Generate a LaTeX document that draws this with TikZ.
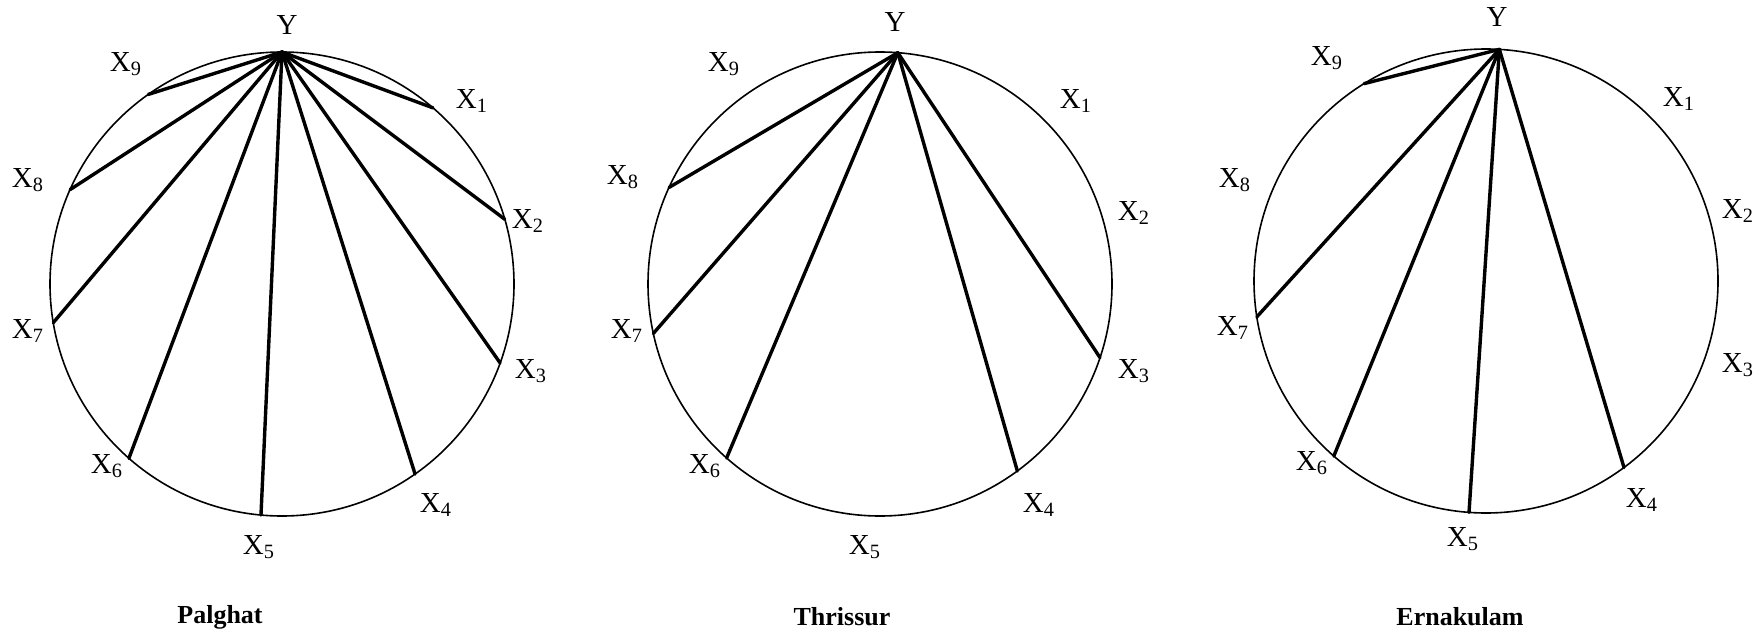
\documentclass[tikz,border=0pt]{standalone}
\usepackage{fontspec}
\setmainfont{Liberation Serif}
\usepackage{tikz}
\usetikzlibrary{calc}
\tikzset{
  every picture/.style={line cap=round, line join=round},
  rim/.style={black, line width=0.8pt},
  chord/.style={black, line width=1.7pt},
  vlbl/.style={font=\fontsize{14.5}{16}\selectfont, inner sep=0pt},
  district/.style={font=\fontsize{13}{15}\selectfont\bfseries, inner sep=0pt},
}

\begin{document}
\begin{tikzpicture}[x=0.5pt, y=0.5pt]
\useasboundingbox (0,0) rectangle (1761,639);
% Palghat
\coordinate (pc) at (282,355);
\draw[rim] (pc) circle (232);
\coordinate (py) at ($(pc)+(90:232)$);
\foreach \n/\a in {1/49.4, 2/16.2, 3/-19.9, 4/-55, 5/-95.2, 6/228.7, 7/189.6, 8/156, 9/125.2} {
  \coordinate (p\n) at ($(pc)+(\a:232)$);
  \draw[chord] (py) -- (p\n);
}
\node[vlbl] (pyl) at (287,614) {Y};
\foreach \n/\x/\y in {1/472/538, 2/528/418, 3/531/268, 4/436/134, 5/259/92,
                      6/107/173, 7/28/308, 8/28/459, 9/126/575}
  \node[vlbl] (pl\n) at (\x,\y) {X\textsubscript{\n}};
\node[district] (pname) at (220,22) {Palghat};
% Thrissur
\coordinate (tc) at (880,355);
\draw[rim] (tc) circle (232);
\coordinate (ty) at ($(tc)+(85.6:232)$);
\foreach \n/\a in {3/-18.5, 4/-53.7, 6/228.6, 7/192.3, 8/155.4} {
  \coordinate (t\n) at ($(tc)+(\a:232)$);
  \draw[chord] (ty) -- (t\n);
}
\node[vlbl] (tyl) at (895,617) {Y};
\foreach \n/\x/\y in {1/1076/538, 2/1134/426, 3/1134/268, 4/1039/134, 5/865/92,
                      6/705/173, 7/627/308, 8/623/462, 9/724/575}
  \node[vlbl] (tl\n) at (\x,\y) {X\textsubscript{\n}};
\node[district] (tname) at (842,22) {Thrissur};
% Ernakulam
\coordinate (ec) at (1486,358);
\draw[rim] (ec) circle (232);
\coordinate (ey) at ($(ec)+(86.7:232)$);
\foreach \n/\a in {4/-53.5, 5/-94.2, 6/229, 7/188.9, 9/121.7} {
  \coordinate (e\n) at ($(ec)+(\a:232)$);
  \draw[chord] (ey) -- (e\n);
}
\node[vlbl] (eyl) at (1497,622) {Y};
\foreach \n/\x/\y in {1/1679/540, 2/1738/428, 3/1738/274, 4/1642/139, 5/1463/100,
                      6/1312/176, 7/1233/311, 8/1235/459, 9/1327/581}
  \node[vlbl] (el\n) at (\x,\y) {X\textsubscript{\n}};
\node[district] (ename) at (1460,22) {Ernakulam};
\end{tikzpicture}
\end{document}
